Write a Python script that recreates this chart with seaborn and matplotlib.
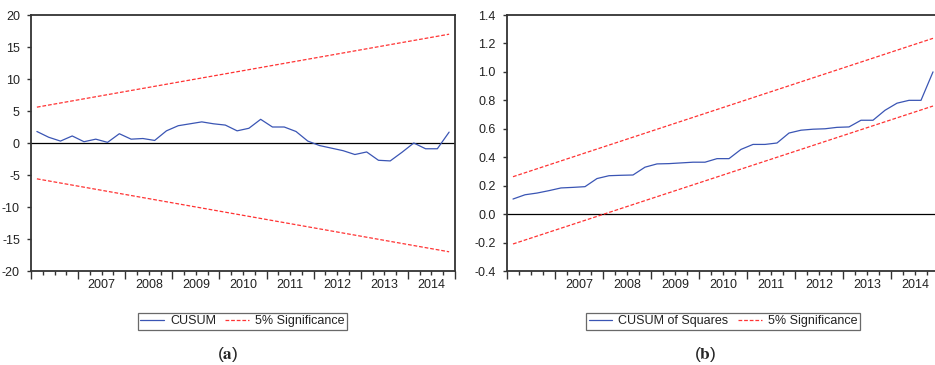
import numpy as np
import pandas as pd
import matplotlib
matplotlib.use("Agg")
import matplotlib.pyplot as plt
import matplotlib.transforms as mtransforms
from matplotlib.lines import Line2D
import seaborn as sns

#----------- DATA -----------

quarters = pd.period_range("2006Q1", "2014Q4", freq="Q")

cusum = [1.8, 0.9, 0.3, 1.1, 0.2, 0.6, 0.1, 1.45, 0.6, 0.7, 0.4, 1.9,
         2.7, 3.0, 3.3, 3.0, 2.8, 1.9, 2.3, 3.7, 2.5, 2.5, 1.8, 0.3,
         -0.4, -0.8, -1.2, -1.8, -1.4, -2.7, -2.8, -1.45, 0.0, -0.9, -0.9, 1.7]

cusum_sq = [0.106, 0.136, 0.148, 0.165, 0.184, 0.188, 0.193, 0.25, 0.27, 0.273, 0.275, 0.33,
            0.353, 0.355, 0.36, 0.365, 0.365, 0.39, 0.39, 0.455, 0.49, 0.49, 0.50, 0.57,
            0.59, 0.597, 0.60, 0.61, 0.613, 0.66, 0.66, 0.73, 0.78, 0.80, 0.80, 1.0]

# 5% bands are straight lines: value at first and last quarter
cusum_upper = [5.6, 17.0]
cusum_lower = [-5.6, -17.0]
sq_upper = [0.263, 1.236]
sq_lower = [-0.21, 0.76]

year_labels = [2007, 2008, 2009, 2010, 2011, 2012, 2013, 2014]

#----------- STYLE -----------

sns.set_style("ticks")
plt.rcParams["font.family"] = ["Liberation Sans", "DejaVu Sans"]
plt.rcParams["mathtext.fontset"] = "stix"

blue = "#3a55b4"
red = "#ff3333"
spine_col = "#333333"

x = quarters.year + (quarters.quarter - 0.5) / 4.0
x_ends = [x[0], x[-1]]

fig = plt.figure(figsize=(9.35, 3.65), dpi=100)
W, H = 935.0, 365.0

def px_axes(left, right, top, bottom):
    return fig.add_axes([left / W, 1 - bottom / H, (right - left) / W, (bottom - top) / H])

ax1 = px_axes(31, 455, 15, 271)
ax2 = px_axes(507, 939, 15, 271)


def draw_panel(ax, series, upper, lower, ylim, yticks, yfmt):
    ax.axhline(0, color="black", lw=0.9, zorder=1)
    sns.lineplot(x=x, y=series, ax=ax, color=blue, lw=0.9, zorder=3)
    sns.lineplot(x=x_ends, y=upper, ax=ax, color=red, lw=0.9, linestyle=(0, (3, 1.5)))
    sns.lineplot(x=x_ends, y=lower, ax=ax, color=red, lw=0.9, linestyle=(0, (3, 1.5)))
    ax.set_xlim(2006, 2015)
    ax.set_ylim(*ylim)
    ax.set_yticks(yticks)
    ax.set_yticklabels([yfmt.format(v) for v in yticks])
    ax.set_xticks(np.arange(2006, 2016))
    ax.set_xticks(np.arange(2006, 2015, 0.25), minor=True)
    ax.set_xticklabels([])
    ax.tick_params(axis="x", which="major", length=6, width=1.0, color=spine_col, direction="out")
    ax.tick_params(axis="x", which="minor", length=3, width=1.0, color=spine_col, direction="out")
    ax.tick_params(axis="y", length=3, width=1.0, color=spine_col, pad=5, labelsize=9,
                   labelcolor="#222222")
    for s in ax.spines.values():
        s.set_visible(True)
        s.set_color(spine_col)
        s.set_linewidth(1.3)
    ax.set_xlabel("")
    ax.set_ylabel("")
    trans = mtransforms.blended_transform_factory(ax.transData, ax.transAxes)
    for yr in year_labels:
        ax.text(yr + 0.5, -0.055, str(yr), transform=trans, ha="center", va="center",
                fontsize=9, color="#222222")


draw_panel(ax1, cusum, cusum_upper, cusum_lower, (-20, 20), [-20, -15, -10, -5, 0, 5, 10, 15, 20], "{:.0f}")
draw_panel(ax2, cusum_sq, sq_upper, sq_lower, (-0.4, 1.4),
           [-0.4, -0.2, 0.0, 0.2, 0.4, 0.6, 0.8, 1.0, 1.2, 1.4], "{:.1f}")

#----------- LEGENDS -----------

def add_legend(label, cx):
    handles = [Line2D([], [], color=blue, lw=0.9),
               Line2D([], [], color=red, lw=0.9, linestyle=(0, (3, 1.5)))]
    leg = fig.legend(handles, [label, "5% Significance"], loc="center",
                     bbox_to_anchor=(cx / W, 1 - 321 / H), ncol=2, fontsize=9,
                     frameon=True, fancybox=False, edgecolor="#444444",
                     handlelength=1.9, handletextpad=0.5, columnspacing=0.75,
                     borderpad=0.2, borderaxespad=0)
    leg.get_frame().set_linewidth(0.9)
    for t in leg.get_texts():
        t.set_color("#222222")

add_legend("CUSUM", 242.5)
add_legend("CUSUM of Squares", 723)

fig.text(228 / W, 1 - 354 / H, r"($\mathbf{a}$)", ha="center", va="center", fontsize=12.5)
fig.text(705 / W, 1 - 354 / H, r"($\mathbf{b}$)", ha="center", va="center", fontsize=12.5)

fig.savefig("out.png", dpi=100)
